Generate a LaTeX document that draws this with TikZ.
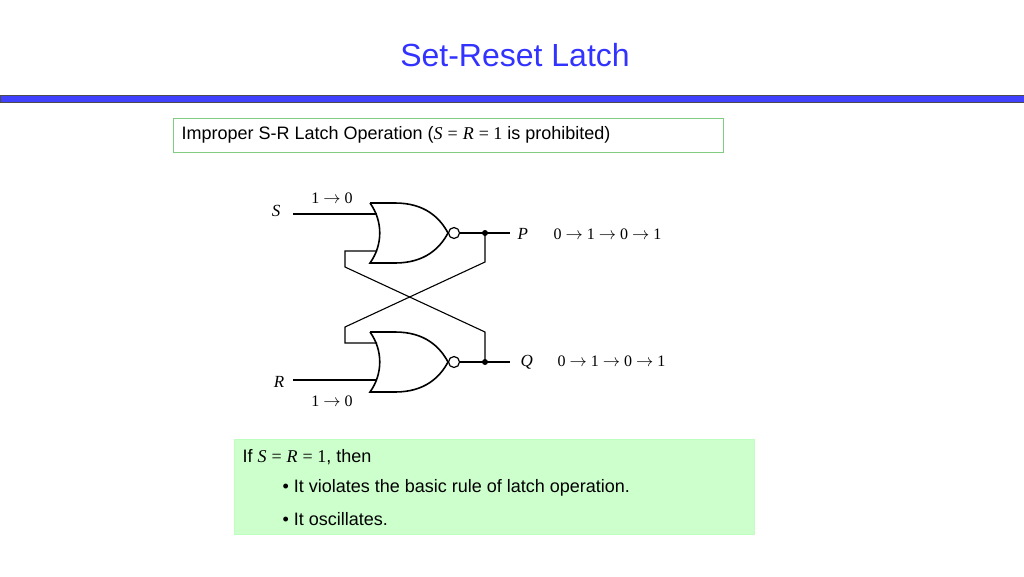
\documentclass[tikz,border=0pt]{standalone}
\usepackage{fontspec}
\setmainfont{Liberation Sans}
\newfontfamily\tms{Liberation Serif}
\begin{document}
\begin{tikzpicture}[x=1pt,y=-1pt,line width=1.1pt,
  lbl/.style={font=\tms\itshape\fontsize{17}{20}\selectfont,inner sep=0},
  val/.style={font=\tms\fontsize{16}{19}\selectfont,inner sep=0},
  txt/.style={font=\fontsize{18}{22}\selectfont,inner sep=0,anchor=west},
  gate/.style={line width=1.6pt}]
\useasboundingbox (0,0) rectangle (1024,576);
\node[font=\fontsize{32}{38}\selectfont,text=blue!80!white] (title) at (515,55) {Set-Reset Latch};
\fill[blue!75!white,draw=black!70,line width=0.6pt] (0,95) rectangle (1024,102);
\node[draw=green!60!black!50,line width=0.6pt,minimum width=550,minimum height=34,anchor=north west,inner sep=0] (b1) at (173,118) {};
\node[txt] (t1) at (181,135) {Improper S-R Latch Operation ({\tms\itshape S} {\tms=} {\tms\itshape R} {\tms= 1} is prohibited)};
% gates
\foreach \n/\yt in {g1/203,g2/332}{
 \draw[gate] (370,\yt) -- (395,\yt) .. controls (425,\yt) and (440,\yt+15) .. (448,\yt+30)
   .. controls (440,\yt+45) and (425,\yt+60) .. (395,\yt+60) -- (370,\yt+60)
   .. controls (383,\yt+42) and (383,\yt+18) .. (370,\yt);
 \draw[line width=1.2pt,fill=white] (454,\yt+30) circle (5.5);
 \coordinate (\n o) at (459.5,\yt+30);
}
\coordinate (pd) at (485,233); \coordinate (qd) at (485,362);
\coordinate (pe) at (510,233); \coordinate (qe) at (510,362);
\coordinate (si) at (293,214); \coordinate (sg) at (377,214);
\coordinate (ri) at (293,380); \coordinate (rg) at (377,380);
\draw (g1o) -- (pe); \draw (g2o) -- (qe);
\fill (pd) circle (3); \fill (qd) circle (3);
\draw (si) -- (sg); \draw (ri) -- (rg);
\draw (377,251) -- (345,251) -- (345,267) -- (485,332) -- (qd);
\draw (pd) -- (485,262) -- (345,327) -- (345,343) -- (377,343);
\node[lbl] (S) at (276,211) {S};
\node[lbl] (R) at (279,382) {R};
\node[lbl,anchor=west] (P) at (517,234) {P};
\node[lbl,anchor=west] (Q) at (520,362) {Q};
\node[val] (s10) at (332,198) {1 \(\rightarrow\) 0};
\node[val] (r10) at (332,401) {1 \(\rightarrow\) 0};
\node[val,anchor=west] (pv) at (553,234) {0 \(\rightarrow\) 1 \(\rightarrow\) 0 \(\rightarrow\) 1};
\node[val,anchor=west] (qv) at (557,361) {0 \(\rightarrow\) 1 \(\rightarrow\) 0 \(\rightarrow\) 1};
% note box
\node[fill=green!20,draw=green!25,line width=0.6pt,minimum width=520,minimum height=95,anchor=north west,inner sep=0] (b2) at (234,439) {};
\node[txt] (n1) at (242,457) {If {\tms\itshape S} {\tms=} {\tms\itshape R} {\tms= 1}, then};
\node[txt] (n2) at (282,488) {\textbullet{} It violates the basic rule of latch operation.};
\node[txt] (n3) at (282,519) {\textbullet{} It oscillates.};
\end{tikzpicture}
\end{document}
